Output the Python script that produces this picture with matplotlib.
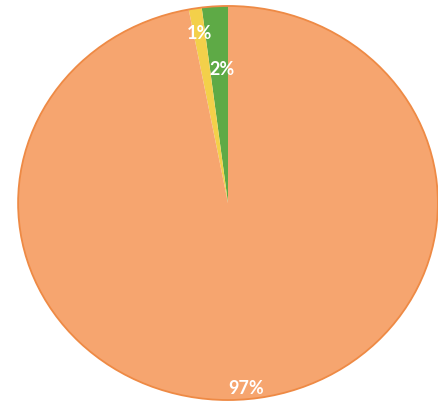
import matplotlib.pyplot as plt
from matplotlib.patches import Ellipse

# slice data (counter-clockwise from 12 o'clock)
labels = ['2%', '1%', '97%']
values = [2, 1, 97]
colors = ['#5EAA46', '#F3D04A', '#F6A56F']
label_pos = [(-0.029, 0.68), (-0.138, 0.86), (0.086, -0.94)]

fig = plt.figure(figsize=(4.38, 4.11), dpi=100)
ax = fig.add_axes([16 / 438, 9 / 411, 424 / 438, 398 / 411])

wedges, texts, autotexts = ax.pie(values, colors=colors, startangle=90, counterclock=True,
                                  autopct='%1.0f%%', radius=1,
                                  wedgeprops=dict(linewidth=0),
                                  textprops=dict(color='white', fontsize=13,
                                                 fontweight='bold', family='Lato'))
for t, (x, y) in zip(autotexts, label_pos):
    t.set_position((x, y))
    t.set_ha('center')
    t.set_va('center')

ax.add_patch(Ellipse((0, 0), 2, 2, fill=False, edgecolor='#EE8A45', linewidth=1.3))
ax.set_aspect('auto')
ax.set_xlim(-1.01, 1.01)
ax.set_ylim(-1.01, 1.01)
ax.axis('off')

fig.savefig('out.png', dpi=100)
